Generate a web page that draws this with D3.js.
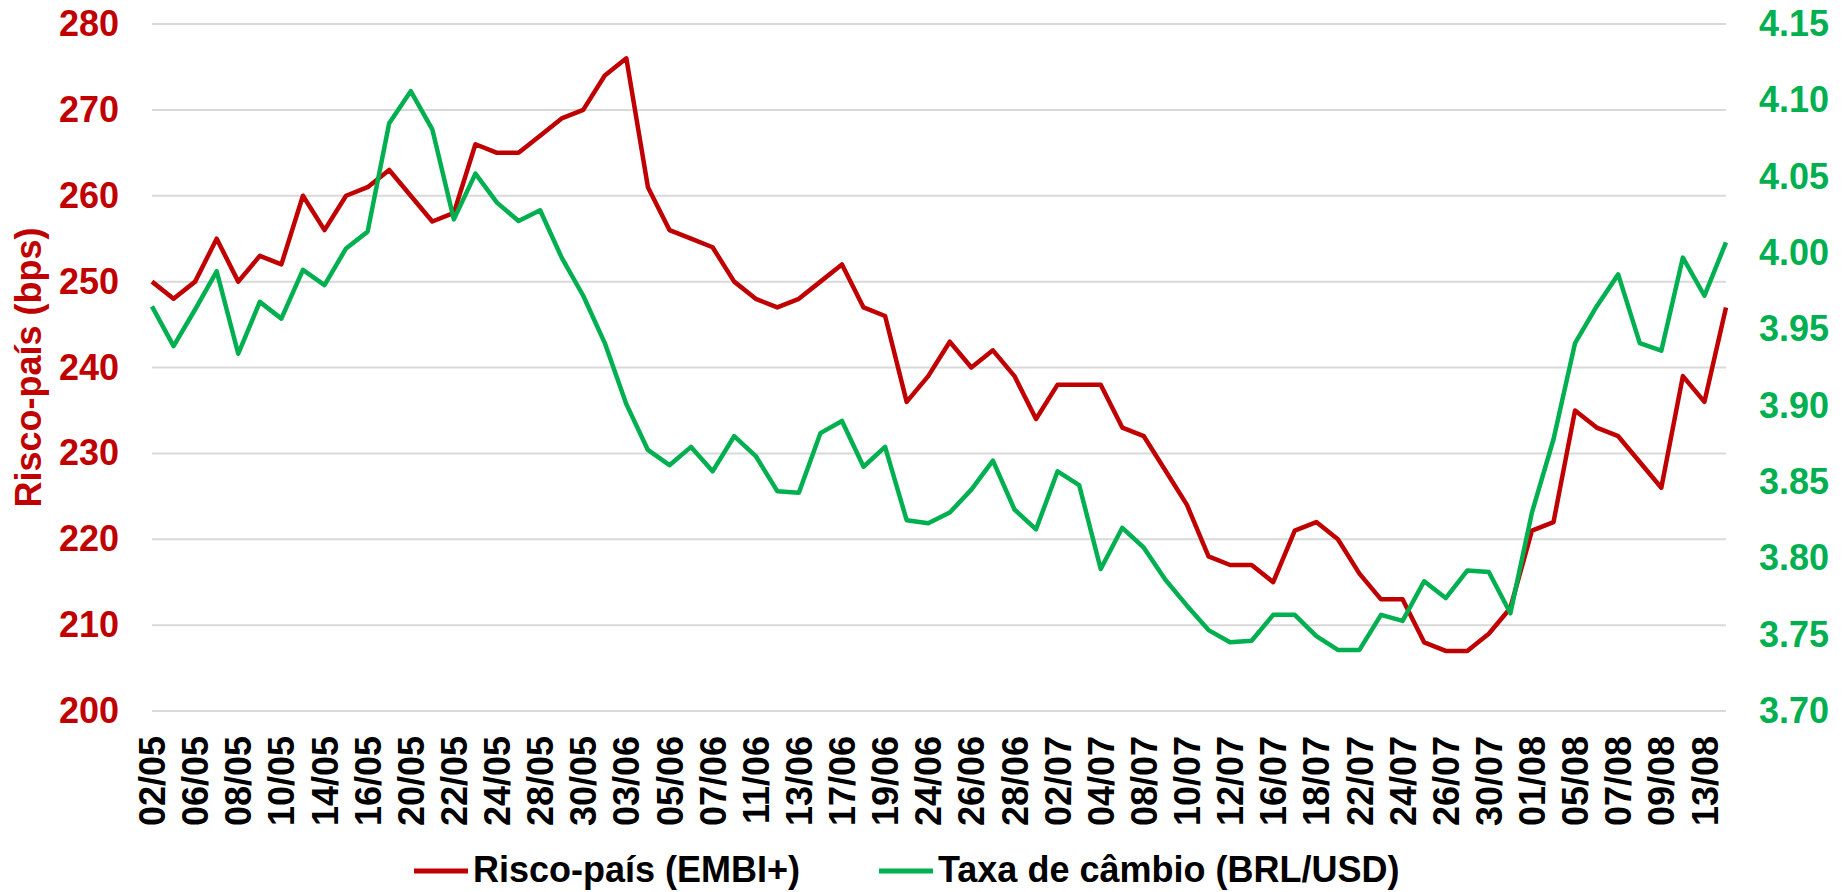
<!DOCTYPE html>
<html>
<head>
<meta charset="utf-8">
<script src="https://cdn.jsdelivr.net/npm/d3@7"></script>
<style>
  body { margin: 0; background: #fff; }
  svg { display: block; font-family: "Liberation Sans", Arial, sans-serif; font-weight: bold; }
</style>
</head>
<body>
<svg width="1844" height="892"></svg>
<script>
// dias úteis (dd/mm), 02/05 a 14/08
var dates = ["02/05","03/05","06/05","07/05","08/05","09/05","10/05","13/05","14/05","15/05",
  "16/05","17/05","20/05","21/05","22/05","23/05","24/05","27/05","28/05","29/05","30/05","31/05",
  "03/06","04/06","05/06","06/06","07/06","10/06","11/06","12/06","13/06","14/06","17/06","18/06",
  "19/06","21/06","24/06","25/06","26/06","27/06","28/06",
  "01/07","02/07","03/07","04/07","05/07","08/07","09/07","10/07","11/07","12/07","15/07","16/07",
  "17/07","18/07","19/07","22/07","23/07","24/07","25/07","26/07","29/07","30/07","31/07",
  "01/08","02/08","05/08","06/08","07/08","08/08","09/08","12/08","13/08","14/08"];

// Risco-país (EMBI+), bps
var embi = [250,248,250,255,250,253,252,260,256,260,261,263,260,257,258,266,265,265,267,269,
  270,274,276,261,256,255,254,250,248,247,248,250,252,247,246,236,239,243,240,242,
  239,234,238,238,238,233,232,228,224,218,217,217,215,221,222,220,216,213,213,208,
  207,207,209,212,221,222,235,233,232,229,226,239,236,247];

// Taxa de câmbio (BRL/USD)
var brl = [3.965,3.939,3.963,3.988,3.934,3.968,3.957,3.989,3.979,4.003,
  4.014,4.085,4.106,4.081,4.022,4.052,4.033,4.021,4.028,3.997,
  3.972,3.941,3.901,3.871,3.861,3.873,3.857,3.880,3.867,3.844,
  3.843,3.882,3.890,3.860,3.873,3.825,3.823,3.830,3.845,3.864,
  3.832,3.819,3.857,3.848,3.793,3.820,3.807,3.786,3.769,3.753,
  3.745,3.746,3.763,3.763,3.749,3.740,3.740,3.763,3.759,3.785,
  3.774,3.792,3.791,3.764,3.830,3.878,3.941,3.965,3.986,3.941,
  3.936,3.997,3.972,4.007];

var leftTicks = [200,210,220,230,240,250,260,270,280];
var rightTicks = [3.70,3.75,3.80,3.85,3.90,3.95,4.00,4.05,4.10,4.15];

var seriesNames = ["Risco-país (EMBI+)", "Taxa de câmbio (BRL/USD)"];
var red = "#C00000", green = "#00B050";

var svg = d3.select("svg");

var plot = {left: 152, right: 1726, top: 24, bottom: 711};

var x = d3.scalePoint().domain(dates).range([plot.left, plot.right]).padding(0);
var yL = d3.scaleLinear().domain([200, 280]).range([plot.bottom, plot.top]);
var yR = d3.scaleLinear().domain([3.70, 4.15]).range([plot.bottom, plot.top]);

// gridlines
svg.append("g")
  .selectAll("line")
  .data(leftTicks)
  .enter().append("line")
    .attr("x1", plot.left).attr("x2", plot.right)
    .attr("y1", d => yL(d)).attr("y2", d => yL(d))
    .attr("stroke", "#d9d9d9")
    .attr("stroke-width", 2);

// left axis
var gL = svg.append("g")
  .attr("transform", "translate(" + (plot.left - 33) + ",0)")
  .call(d3.axisLeft(yL).tickValues(leftTicks).tickSize(0).tickPadding(0));
gL.select(".domain").remove();
gL.selectAll("text")
  .attr("fill", red)
  .style("font-size", "36px")
  .style("font-family", "Liberation Sans, Arial, sans-serif")
  .style("font-weight", "bold");

// right axis
var gR = svg.append("g")
  .attr("transform", "translate(" + (plot.right + 33) + ",0)")
  .call(d3.axisRight(yR).tickValues(rightTicks).tickFormat(d3.format(".2f")).tickSize(0).tickPadding(0));
gR.select(".domain").remove();
gR.selectAll("text")
  .attr("fill", green)
  .style("font-size", "36px")
  .style("font-family", "Liberation Sans, Arial, sans-serif")
  .style("font-weight", "bold");

// x axis, every other day
var gX = svg.append("g")
  .attr("transform", "translate(0," + plot.bottom + ")")
  .call(d3.axisBottom(x).tickValues(dates.filter((d, i) => i % 2 === 0)).tickSize(0));
gX.select(".domain").remove();
gX.selectAll("text")
  .attr("fill", "#000")
  .attr("transform", "translate(0,25) rotate(-90)")
  .attr("text-anchor", "end")
  .attr("x", 0).attr("y", 0).attr("dy", "0.35em")
  .style("font-size", "36px")
  .style("font-family", "Liberation Sans, Arial, sans-serif")
  .style("font-weight", "bold");

// y title
svg.append("text")
  .attr("transform", "translate(41," + ((plot.top + plot.bottom) / 2) + ") rotate(-90)")
  .attr("text-anchor", "middle")
  .attr("fill", red)
  .style("font-size", "36px")
  .text("Risco-país (bps)");

// lines
var lineL = d3.line().x((d, i) => x(dates[i])).y(d => yL(d));
var lineR = d3.line().x((d, i) => x(dates[i])).y(d => yR(d));

svg.append("path")
  .datum(embi)
  .attr("d", lineL)
  .attr("fill", "none")
  .attr("stroke", red)
  .attr("stroke-width", 4.5)
  .attr("stroke-linejoin", "round");

svg.append("path")
  .datum(brl)
  .attr("d", lineR)
  .attr("fill", "none")
  .attr("stroke", green)
  .attr("stroke-width", 4.5)
  .attr("stroke-linejoin", "round");

// legend
var legend = svg.append("g");
var legendItems = [
  {name: seriesNames[0], color: red, x: 414},
  {name: seriesNames[1], color: green, x: 879}
];
var li = legend.selectAll("g")
  .data(legendItems)
  .enter().append("g")
    .attr("transform", d => "translate(" + d.x + ",871)");
li.append("line")
  .attr("x1", 0).attr("x2", 54)
  .attr("stroke", d => d.color)
  .attr("stroke-width", 5);
li.append("text")
  .attr("x", 59)
  .attr("y", 11)
  .attr("fill", "#000")
  .style("font-size", "36px")
  .text(d => d.name);
</script>
</body>
</html>
